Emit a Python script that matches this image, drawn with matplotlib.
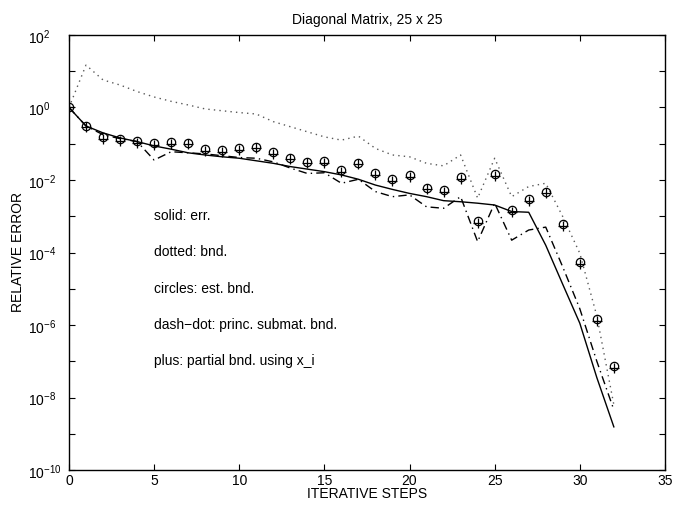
import numpy as np
import matplotlib
matplotlib.use("Agg")
import matplotlib.pyplot as plt
import matplotlib.transforms as mtransforms

plt.rcParams['font.family'] = ['Liberation Sans', 'DejaVu Sans']
plt.rcParams['mathtext.default'] = 'regular'

# iteration index
steps = list(range(33))

# values, as log10 of the relative error
err_log = [0.0, -0.51, -0.70, -0.84, -0.94, -1.06, -1.15, -1.25, -1.31, -1.36,
           -1.40, -1.47, -1.54, -1.63, -1.70, -1.77, -1.86, -1.98, -2.14, -2.26,
           -2.37, -2.46, -2.57, -2.60, -2.64, -2.69, -2.87, -2.89, -3.80, -4.88,
           -5.95, -7.45, -8.81]
bnd_log = [0.0, 1.17, 0.76, 0.62, 0.44, 0.29, 0.17, 0.07, -0.04, -0.09,
           -0.14, -0.18, -0.39, -0.53, -0.67, -0.81, -0.90, -0.79, -1.13, -1.31,
           -1.36, -1.54, -1.61, -1.31, -2.50, -1.40, -2.46, -2.18, -2.09, -3.01,
           -4.02, -5.75, -8.20]
est_log = [0.0, -0.51, -0.81, -0.87, -0.92, -0.99, -0.96, -0.97, -1.14, -1.17,
           -1.12, -1.08, -1.22, -1.38, -1.49, -1.48, -1.72, -1.52, -1.82, -1.98,
           -1.87, -2.21, -2.28, -1.91, -3.13, -1.84, -2.83, -2.53, -2.32, -3.22,
           -4.27, -5.83, -7.13]
princ_log = [0.0, -0.51, -0.75, -0.86, -0.94, -1.45, -1.22, -1.25, -1.28, -1.33,
             -1.38, -1.40, -1.50, -1.67, -1.82, -1.80, -2.09, -1.98, -2.32, -2.46,
             -2.41, -2.74, -2.78, -2.46, -3.70, -2.64, -3.66, -3.38, -3.30, -4.40,
             -5.55, -7.00, -8.34]
partial_log = [0.0, -0.55, -0.86, -0.92, -0.97, -1.04, -1.01, -1.02, -1.19, -1.22,
               -1.17, -1.13, -1.27, -1.43, -1.54, -1.53, -1.77, -1.57, -1.87, -2.03,
               -1.92, -2.26, -2.33, -1.96, -3.18, -1.89, -2.88, -2.58, -2.37, -3.27,
               -4.32, -5.88, -7.18]

notes = ['solid: err.', 'dotted: bnd.', 'circles: est. bnd.',
         'dash\u2212dot: princ. submat. bnd.', 'plus: partial bnd. using x_i']
notes_y = [1e-3, 1e-4, 1e-5, 1e-6, 1e-7]

fig = plt.figure(figsize=(6.73, 5.05), dpi=100)
ax = fig.add_axes([0.1025, 0.0693, 0.8855, 0.8614])

ax.semilogy(steps, np.power(10.0, err_log), '-', color='k', lw=1.0)
ax.semilogy(steps, np.power(10.0, bnd_log), color='0.35', lw=1.0,
            linestyle=(0, (1, 3)))
ax.semilogy(steps, np.power(10.0, est_log), 'o', mfc='none', mec='k',
            ms=6, mew=0.9)
ax.semilogy(steps, np.power(10.0, princ_log), color='k', lw=1.0,
            linestyle=(0, (6, 3, 1, 3)))
ax.semilogy(steps, np.power(10.0, partial_log), '+', color='k', ms=7, mew=0.9)

for t, yv in zip(notes, notes_y):
    ax.text(5, yv, t, fontsize=10, va='center', ha='left')

ax.set_xlim(0, 35)
ax.set_ylim(1e-10, 1e2)
ax.set_xticks(range(0, 36, 5))
ax.set_yticks([10.0 ** k for k in range(-10, 3)])
ax.set_yticklabels([r'$10^{%d}$' % k if k % 2 == 0 else '' for k in range(-10, 3)])
ax.minorticks_off()
ax.tick_params(direction='in', length=4, width=0.8, top=True, right=True,
               labelsize=10, pad=3)
ax.tick_params(axis='y', pad=29.5)
shift = mtransforms.ScaledTranslation(0, -1 / 100, fig.dpi_scale_trans)
for lab in ax.get_yticklabels():
    lab.set_horizontalalignment('left')
    lab.set_transform(lab.get_transform() + shift)
for s in ax.spines.values():
    s.set_linewidth(1.0)

ax.set_title('Diagonal Matrix, 25 x 25', fontsize=10, pad=8)
ax.set_xlabel('ITERATIVE STEPS', fontsize=10, labelpad=-1)
ax.set_ylabel('RELATIVE ERROR', fontsize=10)
ax.yaxis.set_label_coords(-0.074, 0.5)

fig.savefig('out.png', dpi=100)
